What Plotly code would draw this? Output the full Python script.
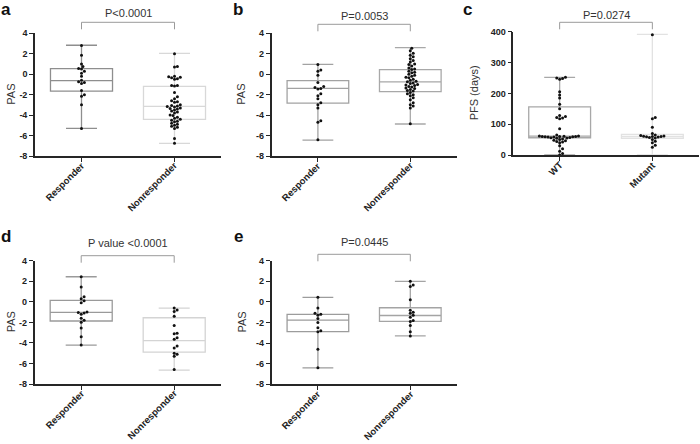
import math
import plotly.graph_objects as go

W, H = 700, 444
FONT = "Liberation Sans, Arial, sans-serif"

# ---------------- data ----------------
pas_groups = ["Responder", "Nonresponder"]
pfs_groups = ["WT", "Mutant"]
pas_ticks = [4, 2, 0, -2, -4, -6, -8]
pas_ticktext = ["4", "2", "0", "-2", "-4", "-6", "-8"]
pfs_ticks = [0, 100, 200, 300, 400]
pfs_ticktext = ["0", "100", "200", "300", "400"]

# panel a
a_resp = [2.8, 1.85, 1.0, 0.75, 0.55, 0.5, 0.3, 0.1, -0.2, -0.6, -0.75, -0.8, -0.9,
          -1.6, -2.0, -2.15, -3.0, -5.3]
a_nonr = [2.0, 0.75, 0.7, -0.2, -0.25, -0.3, -0.35, -0.45, -0.5, -1.1, -1.1, -1.15,
          -1.8, -2.2, -2.4, -2.6, -2.7, -2.75, -3.0, -3.05, -3.1, -3.15, -3.2,
          -3.3, -3.35, -3.4, -3.5, -3.6, -3.7, -3.8, -4.0, -4.05, -4.2, -4.3, -4.4,
          -4.5, -4.6, -4.65, -4.8, -4.9, -5.0, -5.1, -5.2, -5.3, -6.3, -6.75]
a_box = {"q1": [-1.65, -4.42], "median": [-0.63, -3.15], "q3": [0.54, -1.19],
         "lo": [-5.29, -6.76], "hi": [2.83, 2.04]}
a_p = "P<0.0001"

# panel b
b_resp = [0.95, 0.4, 0.3, -0.1, -0.8, -1.2, -1.3, -1.4, -1.45, -1.9, -2.1, -2.4,
          -2.8, -3.0, -3.3, -4.55, -4.7, -6.4]
b_nonr = [2.55, 2.3, 2.05, 1.85, 1.7, 1.5, 1.35, 1.2, 1.0, 0.95, 0.8, 0.6, 0.5, 0.45,
          0.3, 0.2, 0.15, 0.0, -0.1, -0.2, -0.3, -0.35, -0.5, -0.6, -0.7, -0.75,
          -0.85, -0.9, -1.0, -1.05, -1.1, -1.2, -1.25, -1.35, -1.4, -1.5, -1.6,
          -1.65, -1.8, -1.9, -2.0, -2.1, -2.3, -2.5, -2.8, -3.0, -3.1, -3.3, -4.85]
b_box = {"q1": [-2.82, -1.71], "median": [-1.38, -0.76], "q3": [-0.63, 0.44],
         "lo": [-6.44, -4.87], "hi": [0.97, 2.6]}
b_p = "P=0.0053"

# panel c
c_wt = [252, 250, 248, 246, 205, 195, 185, 165, 150, 128, 125, 122, 120, 118, 85,
        65, 62, 62, 61, 60, 60, 60, 59, 59, 58, 58, 57, 56, 55, 54, 52, 50, 48,
        46, 44, 42, 40, 30, 20, 12, 5, 0]
c_mut = [390, 122, 118, 90, 70, 65, 63, 62, 61, 60, 60, 59, 58, 57, 55, 50, 45,
         40, 32, 25]
c_box = {"q1": [56, 54], "median": [61, 60], "q3": [156, 67],
         "lo": [0, 0], "hi": [252, 391]}
c_p = "P=0.0274"

# panel d
d_resp = [2.45, 1.45, 0.5, 0.3, 0.1, -0.1, -1.0, -1.05, -1.1, -1.2, -1.6, -1.8,
          -2.0, -2.55, -3.4, -4.2]
d_nonr = [-0.6, -0.8, -0.95, -1.4, -2.3, -3.05, -3.1, -3.5, -3.65, -4.3, -4.5,
          -5.0, -5.1, -5.3, -6.6]
d_box = {"q1": [-1.87, -4.89], "median": [-1.03, -3.78], "q3": [0.14, -1.55],
         "lo": [-4.21, -6.64], "hi": [2.44, -0.61]}
d_p = "P value <0.0001"

# panel e
e_resp = [0.45, -0.6, -1.1, -1.2, -1.3, -1.6, -2.0, -2.5, -2.8, -2.9, -4.6, -6.4]
e_nonr = [2.0, 1.65, 1.5, 0.2, -0.8, -1.0, -1.1, -1.3, -1.5, -1.8, -1.9, -2.3,
          -2.9, -3.3]
e_box = {"q1": [-2.88, -1.9], "median": [-1.77, -1.32], "q3": [-1.22, -0.57],
         "lo": [-6.41, -3.3], "hi": [0.43, 1.99]}
e_p = "P=0.0445"

# ---------------- layout geometry (pixels) ----------------
panels = [
    dict(key="a", groups=pas_groups, pts=[a_resp, a_nonr], box=a_box, p=a_p,
         x=(35, 221), y=(33.3, 156), yr=(-8, 4), tv=pas_ticks, tt=pas_ticktext,
         colors=["#8e8e8e", "#d8d8d8"], title="PAS", tx=11,
         letter=(6, 10), brk=22.3, ptxt=13),
    dict(key="b", groups=pas_groups, pts=[b_resp, b_nonr], box=b_box, p=b_p,
         x=(271.7, 456.5), y=(33.3, 156), yr=(-8, 4), tv=pas_ticks, tt=pas_ticktext,
         colors=["#a2a2a2", "#a8a8a8"], title="PAS", tx=241,
         letter=(238, 10), brk=24.3, ptxt=16),
    dict(key="c", groups=pfs_groups, pts=[c_wt, c_mut], box=c_box, p=c_p,
         x=(513.3, 698.7), y=(31.7, 155), yr=(0, 400), tv=pfs_ticks, tt=pfs_ticktext,
         colors=["#a8a8a8", "#e2e2e2"], title="PFS (days)", tx=474,
         letter=(467, 10), brk=22.3, ptxt=15),
    dict(key="d", groups=pas_groups, pts=[d_resp, d_nonr], box=d_box, p=d_p,
         x=(34.7, 220.7), y=(260.7, 384), yr=(-8, 4), tv=pas_ticks, tt=pas_ticktext,
         colors=["#9a9a9a", "#d4d4d4"], title="PAS", tx=11,
         letter=(6, 236), brk=255.7, ptxt=243),
    dict(key="e", groups=pas_groups, pts=[e_resp, e_nonr], box=e_box, p=e_p,
         x=(271.7, 456.5), y=(260.7, 384.3), yr=(-8, 4), tv=pas_ticks, tt=pas_ticktext,
         colors=["#9c9c9c", "#a4a4a4"], title="PAS", tx=241,
         letter=(238, 236), brk=254.3, ptxt=242),
]

# approximate Arial-bold character widths (em) for placing rotated labels
CHAR_W = {"R": .722, "N": .722, "W": .944, "T": .611, "M": .833, "e": .556,
          "s": .556, "p": .611, "o": .611, "n": .611, "d": .611, "r": .389,
          "u": .611, "t": .333, "a": .556}
LBL_SIZE = 9.5


def swarm(values, py_per_unit, px_per_cat, d=2.9):
    order = sorted(range(len(values)), key=lambda i: values[i])
    placed = []
    offs = [0.0] * len(values)
    cands = [0.0]
    for n in range(1, 80):
        cands += [n * d * 0.5, -n * d * 0.5]
    for i in order:
        yv = values[i] * py_per_unit
        for c in cands:
            if all((c - px) ** 2 + (yv - py) ** 2 >= d * d for px, py in placed):
                break
        placed.append((c, yv))
        offs[i] = c / px_per_cat
    return offs


fig = go.Figure()
shapes = []
annotations = []

for k, P in enumerate(panels):
    n = "" if k == 0 else str(k + 1)
    xa, ya = "x" + n, "y" + n
    x0, x1 = P["x"]
    ytop, ybot = P["y"]
    wpx = x1 - x0
    px_per_cat = wpx / 2.0
    py_per_unit = (ybot - ytop) / (P["yr"][1] - P["yr"][0])

    for g in range(2):
        fig.add_trace(go.Box(
            x=[g], q1=[P["box"]["q1"][g]], median=[P["box"]["median"][g]],
            q3=[P["box"]["q3"][g]], lowerfence=[P["box"]["lo"][g]],
            upperfence=[P["box"]["hi"][g]], width=0.667, whiskerwidth=0.5,
            line=dict(color=P["colors"][g], width=1.3), fillcolor="rgba(0,0,0,0)",
            boxpoints=False, hoverinfo="skip", showlegend=False,
            xaxis=xa, yaxis=ya))
    for g in range(2):
        vals = P["pts"][g]
        offs = swarm(vals, py_per_unit, px_per_cat)
        fig.add_trace(go.Scatter(
            x=[g + o for o in offs], y=vals, mode="markers",
            marker=dict(size=3.0, color="#111111"), hoverinfo="skip",
            showlegend=False, xaxis=xa, yaxis=ya, cliponaxis=False))

    xd = [x0 / W, x1 / W]
    yd = [1 - ybot / H, 1 - ytop / H]
    axis_common = dict(showline=True, linecolor="#262626", linewidth=1.6,
                       ticks="outside", ticklen=4, tickwidth=1.2, tickcolor="#262626",
                       showgrid=False, zeroline=False, fixedrange=True, automargin=False)
    fig.update_layout(**{
        ("xaxis" + n): dict(domain=xd, range=[-0.5, 1.5], tickvals=[0, 1],
                            showticklabels=False, anchor=ya, **axis_common),
        ("yaxis" + n): dict(domain=yd, range=list(P["yr"]), tickvals=P["tv"],
                            ticktext=P["tt"],
                            tickfont=dict(family=FONT, size=9, color="#222", weight="bold"),
                            anchor=xa, **axis_common),
    })

    # rotated category labels (text end at the tick)
    for g, lab in enumerate(P["groups"]):
        L = sum(CHAR_W.get(ch, 0.6) for ch in lab) * LBL_SIZE
        ex = x0 + px_per_cat * (0.5 + g) + 1
        ey = ybot + 8
        cx = ex - (L / 2) * math.cos(math.pi / 4)
        cy = ey + (L / 2) * math.sin(math.pi / 4)
        annotations.append(dict(x=cx / W, y=1 - cy / H, xref="paper", yref="paper",
                                text="<b>" + lab + "</b>", textangle=-45,
                                showarrow=False, xanchor="center", yanchor="middle",
                                font=dict(family=FONT, size=LBL_SIZE, color="#222")))

    # bracket
    ybr = 1 - P["brk"] / H
    ylow = 1 - (P["brk"] + 7) / H
    for sh in [dict(x0=0, x1=1, y0=ybr, y1=ybr), dict(x0=0, x1=0, y0=ybr, y1=ylow),
               dict(x0=1, x1=1, y0=ybr, y1=ylow)]:
        shapes.append(dict(type="line", xref=xa, yref="paper",
                           line=dict(color="#9a9a9a", width=1), **sh))
    annotations.append(dict(x=0.5, xref=xa, y=1 - P["ptxt"] / H, yref="paper",
                            text=P["p"], showarrow=False, xanchor="center",
                            yanchor="middle",
                            font=dict(family=FONT, size=11, color="#333")))
    # panel letter
    lx, ly = P["letter"]
    annotations.append(dict(x=lx / W, y=1 - ly / H, xref="paper", yref="paper",
                            text="<b>" + P["key"] + "</b>", showarrow=False,
                            xanchor="center", yanchor="middle",
                            font=dict(family=FONT, size=17, color="#111")))
    # axis title
    annotations.append(dict(x=P["tx"] / W, y=(yd[0] + yd[1]) / 2, xref="paper",
                            yref="paper", text=P["title"], textangle=-90,
                            showarrow=False, xanchor="center", yanchor="middle",
                            font=dict(family=FONT, size=11, color="#333")))

fig.update_layout(width=W, height=H, margin=dict(l=0, r=0, t=0, b=0),
                  paper_bgcolor="white", plot_bgcolor="white",
                  shapes=shapes, annotations=annotations, showlegend=False)

fig.write_html("out.html", config={"displayModeBar": False},
               post_script="document.body.style.margin='0';document.body.style.padding='0';")
